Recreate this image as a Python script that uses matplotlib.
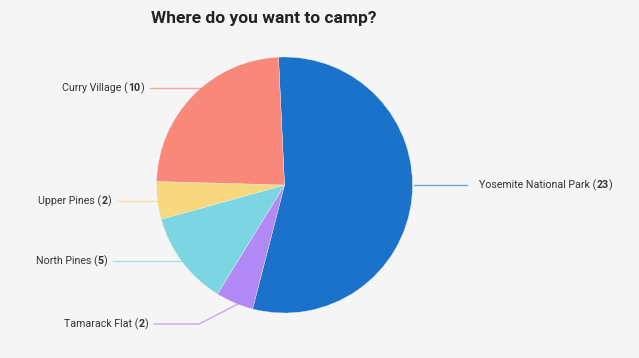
import numpy as np
import matplotlib.pyplot as plt

# data
labels = ['Yosemite National Park', 'Tamarack Flat', 'North Pines', 'Upper Pines', 'Curry Village']
counts = [23, 2, 5, 2, 10]
colors = ['#1a72cb', '#b288f4', '#7cd6e1', '#f7d87f', '#f7887a']

plt.rcParams['font.family'] = 'Roboto'

BG = '#f5f5f5'
W, H = 639, 358
cx, cy, R = 284.5, 358 - 185, 128

fig = plt.figure(figsize=(W / 100, H / 100), dpi=100, facecolor=BG)
ax = fig.add_axes([0, 0, 1, 1])
ax.set_facecolor(BG)

ax.pie(counts, colors=colors, startangle=92.7, counterclock=False,
       center=(cx, cy), radius=R,
       wedgeprops=dict(edgecolor='#f0f0f0', linewidth=0.25))
ax.set_xlim(0, W)
ax.set_ylim(0, H)
ax.set_aspect('equal')
ax.axis('off')

renderer = fig.canvas.get_renderer()
FS = 7.7


def label(x, y, name, n, ha):
    # name normal, count bold, like "Curry Village (10)"
    parts = [(name + ' (', 'normal'), (str(n), 'bold'), (')', 'normal')]
    txts = []
    for s, w in parts:
        t = ax.text(0, y, s, fontsize=FS, fontweight=w, color='#333333',
                    va='center', ha='left')
        txts.append(t)
    widths = [t.get_window_extent(renderer).width for t in txts]
    x0 = x if ha == 'left' else x - sum(widths)
    for t, w in zip(txts, widths):
        t.set_x(x0)
        x0 += w + 0.1


def edge_x(y, side):
    dy = y - cy
    return cx + side * np.sqrt(R ** 2 - dy ** 2)


# label line heights (pixels from top)
ly = {'Yosemite National Park': 185, 'Curry Village': 88,
      'Upper Pines': 201, 'North Pines': 261, 'Tamarack Flat': 324}

for name, n, c in zip(labels, counts, colors):
    y = H - ly[name]
    if name == 'Yosemite National Park':
        ax.plot([edge_x(y, 1) + 1, 467], [y, y], color=c, lw=1, alpha=0.6)
        label(479, y, name, n, 'left')
    elif name == 'Tamarack Flat':
        ax.plot([154, 199, 238], [y, y, H - 304], color=c, lw=1, alpha=0.7)
        label(148, y, name, n, 'right')
    else:
        start = {'Curry Village': 150, 'Upper Pines': 117, 'North Pines': 113}[name]
        ax.plot([start, edge_x(y, -1)], [y, y], color=c, lw=1, alpha=0.7)
        label(start - 6, y, name, n, 'right')

ax.text(264, H - 18, 'Where do you want to camp?', fontsize=12.5, fontweight='bold',
        color='#222222', ha='center', va='center')

fig.savefig('out.png', dpi=100, facecolor=BG)
